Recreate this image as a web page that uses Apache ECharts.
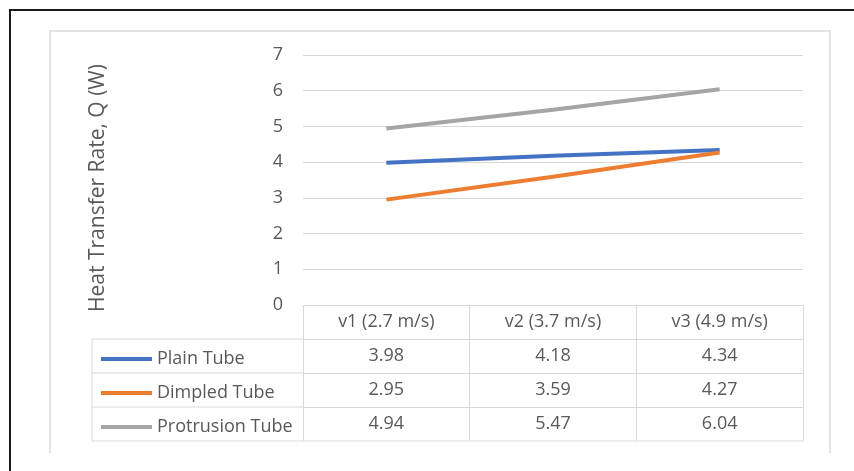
<!DOCTYPE html>
<html lang="en">
<head>
<meta charset="utf-8">
<title>Heat Transfer Rate</title>
<script src="https://cdn.jsdelivr.net/npm/echarts@6/dist/echarts.min.js"></script>
<style>
  html, body { margin: 0; padding: 0; background: #fff; }
  #chart { width: 854px; height: 471px; }
</style>
</head>
<body>
<div id="chart"></div>
<script>
var categories = ['v1 (2.7 m/s)', 'v2 (3.7 m/s)', 'v3 (4.9 m/s)'];
var seriesNames = ['Plain Tube', 'Dimpled Tube', 'Protrusion Tube'];
var plainTube = [3.98, 4.18, 4.34];
var dimpledTube = [2.95, 3.59, 4.27];
var protrusionTube = [4.94, 5.47, 6.04];
var yTicks = [0, 1, 2, 3, 4, 5, 6, 7];

var colors = ['#4472C4', '#ED7D31', '#A5A5A5'];
var rows = [plainTube, dimpledTube, protrusionTube];
var gridCol = '#D9D9D9';
var txtCol = '#595959';
var font = '"Open Sans", "Noto Sans", sans-serif';
var tableFs = 18;

// layout of the plot area + data table under it
var plotL = 303, plotR = 803, plotT = 55, plotB = 305;
var rowH = 34;
var tableL = 92;

var chart = echarts.init(document.getElementById('chart'), null, { renderer: 'canvas' });

var xAxes = [{
  type: 'category',
  data: categories,
  position: 'bottom',
  boundaryGap: true,
  axisLine: { lineStyle: { color: gridCol, width: 1 } },
  axisTick: { show: true, length: rowH, lineStyle: { color: gridCol } },
  axisLabel: { color: txtCol, fontSize: tableFs, fontFamily: font, margin: 8 }
}];
rows.forEach(function (vals, i) {
  xAxes.push({
    type: 'category',
    gridIndex: 0,
    position: 'bottom',
    offset: rowH * (i + 1),
    data: vals.map(function (v) { return v.toFixed(2); }),
    boundaryGap: true,
    axisLine: { lineStyle: { color: gridCol, width: 1 } },
    axisTick: { show: true, length: rowH, lineStyle: { color: gridCol } },
    axisLabel: { color: txtCol, fontSize: tableFs, fontFamily: font, margin: 8 },
    splitLine: { show: false }
  });
});

var legends = seriesNames.map(function (name, i) {
  return {
    data: [name],
    left: tableL + 4,
    top: plotB + rowH * (i + 1) + rowH / 2 - 11,
    icon: 'rect',
    itemWidth: 51,
    itemHeight: 4,
    selectedMode: false,
    textStyle: { color: txtCol, fontSize: tableFs, fontFamily: font }
  };
});

var tableBottom = plotB + rowH * 4;
var gLines = [];
for (var r = 1; r <= 4; r++) {
  var yy = plotB + rowH * r;
  gLines.push({
    type: 'line',
    shape: { x1: tableL, y1: yy, x2: r === 4 ? plotR : plotL, y2: yy },
    style: { stroke: gridCol, lineWidth: 1 }
  });
}
gLines.push({
  type: 'line',
  shape: { x1: tableL, y1: plotB + rowH, x2: tableL, y2: tableBottom },
  style: { stroke: gridCol, lineWidth: 1 }
});
// chart area border (no bottom edge visible) and outer black frame
gLines.push({
  type: 'polyline',
  shape: { points: [[50, 453], [50, 31], [830, 31], [830, 453]] },
  style: { stroke: gridCol, lineWidth: 1.5, fill: null }
});
gLines.push({
  type: 'rect',
  shape: { x: 10, y: 10, width: 900, height: 500 },
  style: { stroke: '#1a1a1a', lineWidth: 2, fill: null }
});

var option = {
  animation: false,
  backgroundColor: '#fff',
  color: colors,
  grid: { left: plotL, right: 854 - plotR, top: plotT, bottom: 471 - plotB, containLabel: false },
  legend: legends,
  xAxis: xAxes,
  yAxis: {
    type: 'value',
    min: yTicks[0],
    max: yTicks[yTicks.length - 1],
    interval: 1,
    name: 'Heat Transfer Rate, Q (W)',
    nameLocation: 'middle',
    nameGap: 194,
    nameTextStyle: { color: txtCol, fontSize: 21, fontFamily: font, padding: [0, 16, 0, 0] },
    axisLine: { show: false },
    axisTick: { show: false },
    axisLabel: { color: txtCol, fontSize: 18, fontFamily: font, margin: 20 },
    splitLine: { lineStyle: { color: gridCol, width: 1 } }
  },
  graphic: gLines,
  series: seriesNames.map(function (name, i) {
    return {
      name: name,
      type: 'line',
      xAxisIndex: 0,
      data: rows[i],
      symbol: 'none',
      lineStyle: { width: 4, color: colors[i] },
      itemStyle: { color: colors[i] }
    };
  })
};

chart.setOption(option);
</script>
</body>
</html>
